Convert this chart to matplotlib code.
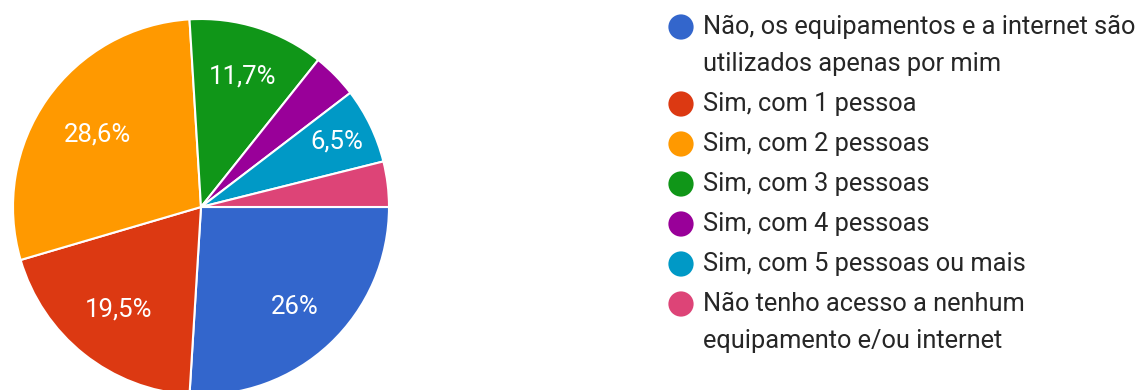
import matplotlib
matplotlib.use('Agg')
import matplotlib.pyplot as plt
import numpy as np

plt.rcParams['font.family'] = ['Roboto', 'DejaVu Sans']

# respostas (%)
labels = [
    'Não, os equipamentos e a internet são\nutilizados apenas por mim',
    'Sim, com 1 pessoa',
    'Sim, com 2 pessoas',
    'Sim, com 3 pessoas',
    'Sim, com 4 pessoas',
    'Sim, com 5 pessoas ou mais',
    'Não tenho acesso a nenhum\nequipamento e/ou internet',
]
percent = [26.0, 19.5, 28.6, 11.7, 3.9, 6.5, 3.9]
colors = ['#3366cc', '#dc3912', '#ff9900', '#109618', '#990099', '#0099c6', '#dd4477']

W, H = 1142, 390
fig = plt.figure(figsize=(W / 100, H / 100), dpi=100)

# pizza: centro (201, 207) px, raio 188 px
cx, cy, r = 201, 207, 188
ax = fig.add_axes([(cx - r) / W, (H - cy - r) / H, 2 * r / W, 2 * r / H])
wedges, _ = ax.pie(percent, colors=colors, startangle=0, counterclock=False,
                   radius=1, wedgeprops=dict(edgecolor='white', linewidth=1.5))
ax.set_xlim(-1, 1)
ax.set_ylim(-1, 1)
ax.set_aspect('equal')
ax.axis('off')


def fmt(v):
    s = f'{v:.1f}'.rstrip('0').rstrip('.')
    return s.replace('.', ',') + '%'


# rótulos só nas fatias maiores
label_dist = [0.73, 0.70, 0.67, 0.73, 0.7, 0.80, 0.7]
for w, v, d in zip(wedges, percent, label_dist):
    if v < 5:
        continue
    ang = np.deg2rad((w.theta1 + w.theta2) / 2)
    ax.text(d * np.cos(ang), d * np.sin(ang), fmt(v), color='white',
            fontsize=18.5, ha='center', va='center')

# legenda
lg = fig.add_axes([0, 0, 1, 1])
lg.set_xlim(0, W)
lg.set_ylim(H, 0)
lg.axis('off')
y = 27
for lab, c in zip(labels, colors):
    lg.scatter([681], [y], s=330, color=c, edgecolors='none')
    for i, line in enumerate(lab.split('\n')):
        lg.text(703, y + i * 37, line, fontsize=18.3, color='#262626',
                ha='left', va='center')
    y += 37 * (lab.count('\n')) + 40

fig.savefig('out.png', dpi=100)
